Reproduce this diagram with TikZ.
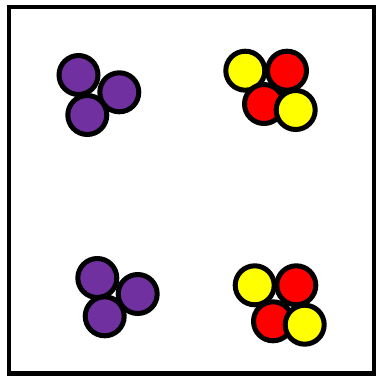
\documentclass[tikz,border=0pt]{standalone}
\usepackage{tikz}
\usepackage{xcolor}
\definecolor{grape}{HTML}{7030A0}
\definecolor{ballred}{HTML}{FF0000}
\definecolor{ballyellow}{HTML}{FFFF00}

\begin{document}
\begin{tikzpicture}[x=1pt,y=-1pt,line width=5pt]
\tikzset{ball/.style={draw=black,line width=5pt}}
\useasboundingbox (0,0) rectangle (376,376);
\fill[white] (0,0) rectangle (376,376);
\draw[line width=4.6pt] (9.2,6.8) rectangle (374,373.3);
% top left, purple
\filldraw[ball,fill=grape] (78.5,75) circle (19.5);
\filldraw[ball,fill=grape] (119.3,92.3) circle (19.5);
\filldraw[ball,fill=grape] (87.3,115) circle (19.5);
% top right, yellow and red
\filldraw[ball,fill=ballyellow] (245.3,70.7) circle (19.5);
\filldraw[ball,fill=ballred] (287,70.7) circle (19.5);
\filldraw[ball,fill=ballred] (264,104) circle (19.5);
\filldraw[ball,fill=ballyellow] (295.7,110) circle (19.5);
% bottom left, purple
\filldraw[ball,fill=grape] (97.3,278) circle (19.5);
\filldraw[ball,fill=grape] (137.7,294) circle (19.5);
\filldraw[ball,fill=grape] (104.7,316.3) circle (19.5);
% bottom right, yellow and red
\filldraw[ball,fill=ballyellow] (254.7,285.3) circle (19.5);
\filldraw[ball,fill=ballred] (296.3,285.3) circle (19.5);
\filldraw[ball,fill=ballred] (273,321.3) circle (19.5);
\filldraw[ball,fill=ballyellow] (304.7,324.7) circle (19.5);
\end{tikzpicture}
\end{document}
